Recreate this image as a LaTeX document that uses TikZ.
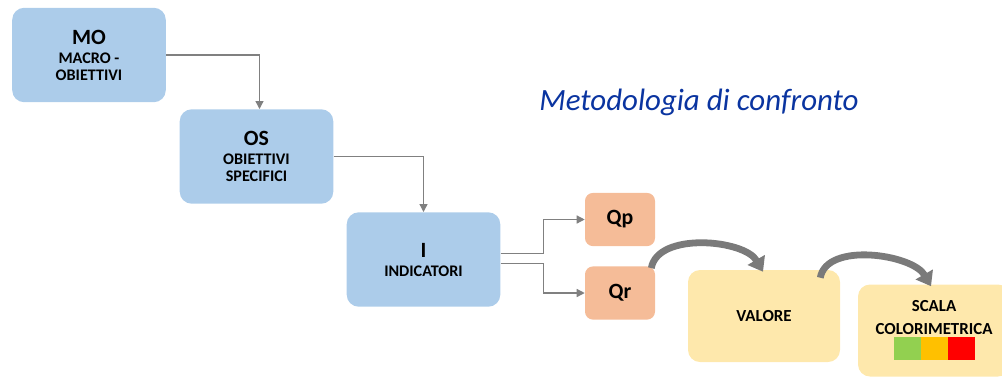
\documentclass[tikz,border=0pt]{standalone}
\usepackage{fontspec}
\setmainfont{Carlito}
\usetikzlibrary{arrows.meta,positioning,calc}
\definecolor{boxblue}{RGB}{172,204,234}
\definecolor{qorange}{RGB}{245,188,152}
\definecolor{valyellow}{RGB}{254,232,172}
\definecolor{lgray}{RGB}{128,128,128}
\definecolor{dgray}{RGB}{122,122,122}
\definecolor{ttlblue}{RGB}{10,52,160}
\definecolor{cgreen}{RGB}{146,208,80}
\definecolor{corange}{RGB}{255,192,0}
\definecolor{cred}{RGB}{255,0,0}
\newcommand{\hdtxt}[1]{{\fontsize{15.5}{17}\selectfont #1}\\[1.5pt]}
\newcommand{\subtxt}[1]{{\fontsize{11.5}{14.5}\selectfont #1}}
\tikzset{
  blk/.style={fill=boxblue,rounded corners=3mm,align=center,font=\bfseries,minimum width=38.4mm,minimum height=23.6mm,inner sep=2pt},
  qbox/.style={fill=qorange,rounded corners=2mm,align=center,font=\bfseries\fontsize{15.5}{18}\selectfont,minimum width=17.5mm,minimum height=13.3mm,inner sep=1pt},
  ybox/.style={fill=valyellow,rounded corners=3mm,align=center,font=\bfseries\fontsize{12}{16}\selectfont,minimum width=38mm,minimum height=23mm,inner sep=2pt},
  arr/.style={-{Triangle[length=2mm,width=2mm]},draw=lgray,line width=0.9pt},
  bigarr/.style={-{Triangle[length=3.4mm,width=4.8mm]},draw=dgray,line width=1.7mm}
}
\begin{document}
\begin{tikzpicture}[x=0.25mm,y=0.25mm]
\useasboundingbox (0,0) rectangle (1002,-378);
\node[blk] (mo) at (89,-55) {\hdtxt{MO}\subtxt{MACRO -}\\\subtxt{OBIETTIVI}};
\node[blk] (os) at (256.5,-156.5) {\hdtxt{OS}\subtxt{OBIETTIVI}\\\subtxt{SPECIFICI}};
\node[blk] (ind) at (423.5,-259.5) {\hdtxt{I}\subtxt{INDICATORI}};
\node[qbox] (qp) at (620,-219.5) {Qp};
\node[qbox] (qr) at (620,-293) {Qr};
\node[ybox] (val) at (764,-316) {VALORE};
\node[ybox] (scala) at (934,-330.5) {SCALA\\COLORIMETRICA\\[1pt]%
  \textcolor{cgreen}{\rule{6.75mm}{5.75mm}}\textcolor{corange}{\rule{6.75mm}{5.75mm}}\textcolor{cred}{\rule{6.75mm}{5.75mm}}};
\node[font=\itshape\fontsize{22}{26}\selectfont,text=ttlblue] (ttl) at (699,-102) {Metodologia di confronto};
\draw[arr] (mo.east) -| ($(os.north)+(3,0)$);
\draw[arr] (os.east) -| (ind.north);
\draw[arr] ($(ind.east)+(0,6)$) -- ++(43,0) |- (qp.west);
\draw[arr] ($(ind.east)+(0,-4)$) -- ++(43,0) |- (qr.west);
\draw[bigarr] ($(qr.north east)+(-4,-2)$) to[out=80,in=120,looseness=0.85] ($(val.north)+(-1,-2)$);
\draw[bigarr] ($(val.north east)+(-20,-8)$) to[out=80,in=120,looseness=0.85] ($(scala.north)+(-3,-2)$);
\end{tikzpicture}
\end{document}
